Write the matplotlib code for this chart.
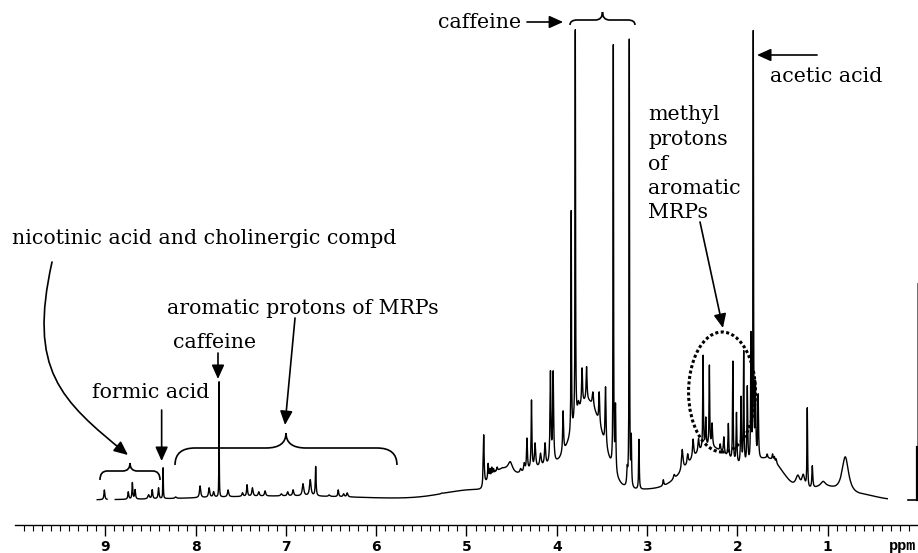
"""
1H NMR spectrum with assignments (coffee-like extract)
"""

import numpy as np
import matplotlib
matplotlib.use("Agg")
from matplotlib import pyplot as plt
from matplotlib.path import Path
from matplotlib.patches import FancyArrowPatch, Ellipse, PathPatch

# sharp / medium peaks: position (ppm), apparent top, half width (ppm)
peak_ppm = [9.01, 8.745, 8.70, 8.67, 8.52, 8.48, 8.41, 8.36, 8.22,
            7.95, 7.85, 7.80, 7.74, 7.64, 7.48, 7.43, 7.37, 7.30, 7.23,
            7.05, 6.98, 6.92, 6.81, 6.73, 6.67, 6.52, 6.42, 6.36, 6.32, 5.27,
            4.81, 4.76, 4.74, 4.72, 4.70, 4.68, 4.66, 4.63, 4.60, 4.57,
            4.515, 4.40, 4.36, 4.33, 4.28, 4.24,
            4.18, 4.13, 4.07, 4.04, 3.93, 3.84, 3.795, 3.76, 3.72, 3.67,
            3.60, 3.53, 3.46, 3.374, 3.35, 3.22, 3.197, 3.175, 3.09,
            2.82, 2.70, 2.61, 2.55, 2.49, 2.43, 2.38, 2.35, 2.31, 2.28,
            2.19, 2.15, 2.10, 2.05, 2.01, 1.96, 1.93, 1.89, 1.85, 1.824,
            1.80, 1.77, 1.67, 1.64, 1.61, 1.59, 1.57, 1.33, 1.27, 1.226, 1.17,
            1.05, 0.805]
peak_top = [10, 8, 17, 10, 5, 10, 12, 32, 3,
            14, 12, 8, 118, 10, 7, 15, 12, 8, 9,
            6, 8, 10, 16, 20, 33, 5, 10, 6, 7, 7,
            60, 35, 29, 31, 30, 28, 32, 30, 31, 30,
            38, 30, 35, 60, 98, 55,
            45, 55, 125, 125, 88, 287, 468, 95, 130, 132,
            107, 107, 112, 452, 90, 27, 458, 58, 60,
            20, 25, 50, 45, 60, 60, 143, 80, 133, 75,
            55, 62, 75, 137, 85, 100, 145, 110, 160, 462,
            110, 102, 45, 40, 45, 42, 40, 23, 22, 88, 32,
            17, 43]
peak_hw = [0.006, 0.006, 0.005, 0.006, 0.01, 0.006, 0.006, 0.003, 0.01,
           0.008, 0.008, 0.008, 0.002, 0.008, 0.008, 0.006, 0.008, 0.008, 0.008,
           0.01, 0.008, 0.008, 0.01, 0.01, 0.005, 0.01, 0.006, 0.008, 0.008, 0.01,
           0.006, 0.006, 0.005, 0.005, 0.006, 0.005, 0.006, 0.005, 0.006, 0.005,
           0.03, 0.01, 0.008, 0.006, 0.005, 0.008,
           0.01, 0.008, 0.006, 0.006, 0.006, 0.003, 0.003, 0.01, 0.006, 0.006,
           0.008, 0.006, 0.006, 0.003, 0.005, 0.006, 0.003, 0.004, 0.004,
           0.006, 0.01, 0.01, 0.008, 0.008, 0.008, 0.004, 0.005, 0.004, 0.006,
           0.006, 0.006, 0.005, 0.004, 0.005, 0.005, 0.004, 0.005, 0.004, 0.003,
           0.005, 0.005, 0.006, 0.006, 0.006, 0.006, 0.006, 0.03, 0.02, 0.004, 0.006,
           0.03, 0.045]

# broad humps under the peaks (gaussian centre, height, sigma)
hump_ppm = [4.15, 4.62, 3.65, 3.05, 2.30, 1.65, 1.05, 0.60, 4.90, 7.00]
hump_height = [30, 14, 90, 9, 52, 38, 12, 4, 10, 4]
hump_sigma = [0.30, 0.10, 0.17, 0.25, 0.27, 0.18, 0.15, 0.15, 0.35, 0.90]
hump_cut = [True, True, True, True, True, True, True, True, False, False]

water_edge = 4.81          # humps stop sharply at the suppressed water signal
spectrum_start, spectrum_end = 9.09, 0.34
gap_start, gap_end = 8.98, 8.89

tick_ppm = [9, 8, 7, 6, 5, 4, 3, 2, 1]

# reference bar at the right edge
bar_ppm = 0.011
bar_foot_ppm = 0.111
bar_top = 217
bar_thick_top = 53


def envelope(x):
    """ Sum of the broad humps """
    total = np.zeros_like(x)
    for c, h, s, cut in zip(hump_ppm, hump_height, hump_sigma, hump_cut):
        g = h * np.exp(-0.5 * ((x - c) / s) ** 2)
        if cut:
            g = g * (x < water_edge)
        total += g
    return total


def spectrum(x):
    """ Envelope plus lorentzian lines """
    y = envelope(x)
    for c, top, hw in zip(peak_ppm, peak_top, peak_hw):
        h = max(top - envelope(np.array([c]))[0], 0)
        y += h * hw ** 2 / ((x - c) ** 2 + hw ** 2)
    return y


def brace(ax, x_left, x_right, y_end, y_mid, y_tip, corner):
    """ Curly brace with the cusp pointing up """
    xm = (x_left + x_right) / 2
    verts = [(x_left, y_end),
             (x_left, y_mid), (x_left + corner, y_mid),
             (xm - corner, y_mid),
             (xm, y_mid), (xm, y_tip),
             (xm, y_mid), (xm + corner, y_mid),
             (x_right - corner, y_mid),
             (x_right, y_mid), (x_right, y_end)]
    codes = [Path.MOVETO, Path.CURVE3, Path.CURVE3, Path.LINETO,
             Path.CURVE3, Path.CURVE3, Path.CURVE3, Path.CURVE3,
             Path.LINETO, Path.CURVE3, Path.CURVE3]
    ax.add_patch(PathPatch(Path(verts, codes), fill=False, lw=1.2,
                           color="black", clip_on=False))


def arrow(ax, start, end):
    ax.add_patch(FancyArrowPatch(start, end, arrowstyle="-|>,head_length=0.6,head_width=0.27",
                                 mutation_scale=14, lw=1.2, color="black",
                                 shrinkA=0, shrinkB=0, clip_on=False))


fig = plt.figure(figsize=(9.18, 5.53), dpi=100)
ax = fig.add_axes([15 / 918, 28 / 553, 903 / 918, 525 / 553])

x = np.arange(spectrum_end, spectrum_start, 0.0005)
y = spectrum(x)
y[(x < gap_start) & (x > gap_end)] = np.nan
ax.plot(x, y, color="black", lw=1.0)

# reference bar
ax.plot([bar_ppm, bar_ppm], [0, bar_top], color="#555555", lw=0.6)
ax.plot([bar_ppm, bar_ppm], [0, bar_thick_top], color="black", lw=1.6)
ax.plot([bar_foot_ppm, bar_ppm], [0, 0], color="black", lw=1.2)

ax.set_xlim(10.0, 0.0)
ax.set_ylim(-25, 500)
for side in ["left", "right", "top"]:
    ax.spines[side].set_visible(False)
ax.spines["bottom"].set_linewidth(1.0)
ax.set_yticks([])
ax.set_xticks(tick_ppm)
ax.set_xticks(np.arange(0.1, 10.0, 0.1), minor=True)
ax.tick_params(axis="x", which="major", length=8, width=1.0, pad=3)
ax.tick_params(axis="x", which="minor", length=4.5, width=0.8)
for label in ax.get_xticklabels():
    label.set_fontfamily("DejaVu Sans")
    label.set_fontweight("bold")
    label.set_fontsize(10)
ax.text(0.166, -46, "ppm", family="Liberation Mono", weight="bold", fontsize=11,
        ha="center", va="center", clip_on=False)

# annotations
serif = dict(family="DejaVu Serif", fontsize=14.8, color="black", va="center", clip_on=False)
ax.text(10.033, 262, "nicotinic acid and cholinergic compd", ha="left", **serif)
ax.text(8.317, 192, "aromatic protons of MRPs", ha="left", **serif)
ax.text(8.25, 158, "caffeine", ha="left", **serif)
ax.text(9.147, 108, "formic acid", ha="left", **serif)
ax.text(5.316, 478, "caffeine", ha="left", **serif)
ax.text(1.639, 423, "acetic acid", ha="left", **serif)
for i, word in enumerate(["methyl", "protons", "of", "aromatic", "MRPs"]):
    ax.text(2.99, 385 - 24.5 * i, word, ha="left", **serif)

# nicotinic curved arrow
curve = Path([(9.590, 238), (9.856, 130), (9.502, 100), (8.749, 45)],
             [Path.MOVETO, Path.CURVE4, Path.CURVE4, Path.CURVE4])
ax.add_patch(FancyArrowPatch(path=curve, arrowstyle="-|>,head_length=0.6,head_width=0.27",
                             mutation_scale=14, lw=1.2, color="black", clip_on=False))

arrow(ax, (8.376, 90), (8.376, 39))
arrow(ax, (7.752, 147), (7.752, 121))
arrow(ax, (6.899, 182), (7.01, 75))
arrow(ax, (2.414, 278), (2.16, 172))
arrow(ax, (1.118, 445), (1.783, 445))
arrow(ax, (4.33, 478), (3.93, 478))

brace(ax, 9.059, 8.394, 20, 29, 37, -0.08)
brace(ax, 8.228, 5.770, 35, 52, 67, -0.22)
brace(ax, 3.854, 3.134, 475, 480, 488, -0.08)

ax.add_patch(Ellipse((2.17, 108), width=0.742, height=120, fill=False,
                     lw=2.2, ls=(0, (1, 0.8)), color="black"))

plt.savefig("out.png", dpi=100)
